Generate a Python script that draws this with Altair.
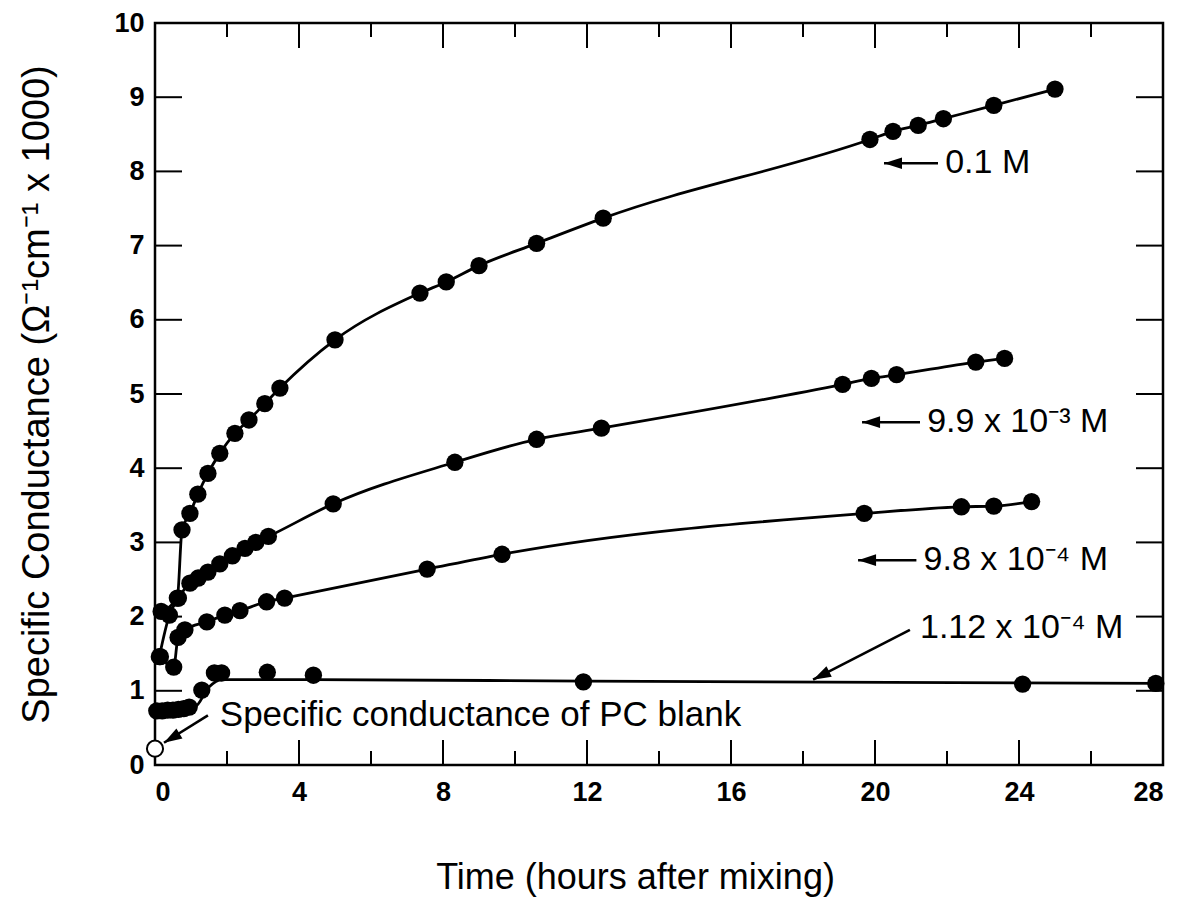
import altair as alt
import pandas as pd

# ---------------- data ----------------
t_01 = [0.17, 0.62, 0.75, 0.97, 1.19, 1.47, 1.80, 2.22, 2.61, 3.05, 3.47, 5.00, 7.36, 8.09, 9.00,
        10.60, 12.45, 19.86, 20.50, 21.20, 21.90, 23.30, 25.00]
v_01 = [2.07, 2.25, 3.17, 3.39, 3.65, 3.93, 4.20, 4.47, 4.65, 4.87, 5.08, 5.73, 6.36, 6.51, 6.73,
        7.03, 7.37, 8.43, 8.54, 8.62, 8.71, 8.89, 9.11]

t_99 = [0.12, 0.40, 0.65, 0.97, 1.20, 1.47, 1.80, 2.15, 2.50, 2.80, 3.15, 4.95, 8.33, 10.60, 12.40,
        19.10, 19.90, 20.60, 22.80, 23.60]
v_99 = [1.46, 2.02, 2.25, 2.45, 2.52, 2.60, 2.71, 2.82, 2.92, 3.00, 3.08, 3.52, 4.08, 4.39, 4.54,
        5.13, 5.21, 5.26, 5.43, 5.48]

t_98 = [0.15, 0.52, 0.64, 0.83, 1.44, 1.94, 2.36, 3.10, 3.60, 7.56, 9.64, 19.70, 22.40, 23.30, 24.35]
v_98 = [1.46, 1.32, 1.72, 1.82, 1.93, 2.02, 2.08, 2.20, 2.25, 2.64, 2.84, 3.39, 3.48, 3.49, 3.55]

t_112 = [0.05, 0.20, 0.35, 0.50, 0.65, 0.80, 0.95, 1.30, 1.65, 1.85, 3.12, 4.40, 11.90, 24.10, 27.80]
v_112 = [0.73, 0.73, 0.74, 0.74, 0.75, 0.76, 0.78, 1.01, 1.24, 1.24, 1.25, 1.21, 1.12, 1.09, 1.10]
# fitted curve drawn for the 1.12e-4 M series
curve_t_112 = [0.0, 1.10, 1.50, 1.85, 4.40, 12.0, 28.0]
curve_v_112 = [0.74, 0.78, 1.05, 1.15, 1.15, 1.13, 1.10]

blank_t = [0.0]
blank_v = [0.22]

x_tick_labels = [0, 4, 8, 12, 16, 20, 24, 28]
x_major_inner = [4, 8, 12, 16, 20, 24]
x_minor_inner = [2, 6, 10, 14, 18, 22, 26]
y_tick_labels = [0, 1, 2, 3, 4, 5, 6, 7, 8, 9, 10]
y_inner = [1, 2, 3, 4, 5, 6, 7, 8, 9]

series_label_text = ["0.1 M", "9.9 x 10\u207B\u00B3 M", "9.8 x 10\u207B\u2074 M", "1.12 x 10\u207B\u2074 M"]
series_label_t = [21.95, 21.45, 21.35, 21.25]
series_label_v = [8.11, 4.62, 2.76, 1.85]

blank_label_text = ["Specific conductance of PC blank"]
blank_label_t = [1.80]
blank_label_v = [0.67]

arrow_tail_t = [21.75, 21.25, 21.15, 20.97, 1.47]
arrow_tail_v = [8.11, 4.62, 2.76, 1.82, 0.67]
arrow_tip_t = [20.25, 19.64, 19.53, 18.28, 0.25]
arrow_tip_v = [8.11, 4.62, 2.76, 1.15, 0.30]
arrow_angle = [0, 0, 0, 333, 329]

# ---------------- frames ----------------
def frame(name, t, v):
    return pd.DataFrame({"series": name, "t": t, "v": v})

pts = pd.concat([frame("0.1 M", t_01, v_01), frame("9.9e-3 M", t_99, v_99),
                 frame("9.8e-4 M", t_98, v_98), frame("1.12e-4 M", t_112, v_112)])
lines = pd.concat([frame("0.1 M", t_01, v_01), frame("9.9e-3 M", t_99, v_99),
                   frame("9.8e-4 M", t_98, v_98), frame("1.12e-4 M", curve_t_112, curve_v_112)])
blank = pd.DataFrame({"t": blank_t, "v": blank_v})
series_labels = pd.DataFrame({"t": series_label_t, "v": series_label_v, "text": series_label_text})
blank_labels = pd.DataFrame({"t": blank_label_t, "v": blank_label_v, "text": blank_label_text})
arrows = pd.DataFrame({"t": arrow_tail_t, "v": arrow_tail_v, "t2": arrow_tip_t, "v2": arrow_tip_v})
heads = pd.DataFrame({"t": arrow_tip_t, "v": arrow_tip_v, "angle": arrow_angle})

W, H = 1008, 742
FONT = "Liberation Sans"

xs = alt.Scale(domain=[0, 28], nice=False, zero=False)
ys = alt.Scale(domain=[0, 10], nice=False, zero=False)

X = alt.X("t:Q", scale=xs, axis=alt.Axis(
    values=x_tick_labels, ticks=False, domain=False, grid=False,
    labelFontSize=27, labelFont=FONT, labelFontWeight="bold", labelColor="black", labelPadding=14,
    title="Time (hours after mixing)", titleFont=FONT, titleFontSize=36,
    titleFontWeight="normal", titleColor="black",
    titleX=480, titleY=112, titleBaseline="middle", titleAlign="center"))
Y = alt.Y("v:Q", scale=ys, axis=alt.Axis(
    values=y_tick_labels, ticks=False, domain=False, grid=False,
    labelFontSize=27, labelFont=FONT, labelFontWeight="bold", labelColor="black", labelPadding=11,
    title="Specific Conductance (\u03A9\u207B\u00B9cm\u207B\u00B9 x 1000)", titleFont=FONT,
    titleFontSize=38, titleFontWeight="normal", titleColor="black",
    titleX=-118, titleY=371, titleAngle=270, titleBaseline="middle", titleAlign="center"))

line_layer = alt.Chart(lines).mark_line(color="black", strokeWidth=2.8, interpolate="monotone").encode(
    x=X, y=Y, detail="series:N")
point_layer = alt.Chart(pts).mark_circle(color="black", size=300, opacity=1).encode(x=X, y=Y)
blank_layer = alt.Chart(blank).mark_point(shape="circle", filled=True, fill="white", stroke="black",
                                          strokeWidth=2, size=260, opacity=1).encode(x=X, y=Y)

def xtick(vals, length, top):
    df = pd.DataFrame({"t": vals})
    if top:
        return alt.Chart(df).mark_rule(color="black", strokeWidth=2).encode(
            x=X, y=alt.value(0), y2=alt.value(length))
    return alt.Chart(df).mark_rule(color="black", strokeWidth=2).encode(
        x=X, y=alt.value(H), y2=alt.value(H - length))

def ytick(vals, length, right):
    df = pd.DataFrame({"v": vals})
    if right:
        return alt.Chart(df).mark_rule(color="black", strokeWidth=2).encode(
            y=Y, x=alt.value(W), x2=alt.value(W - length))
    return alt.Chart(df).mark_rule(color="black", strokeWidth=2).encode(
        y=Y, x=alt.value(0), x2=alt.value(length))

tick_layers = [xtick(x_major_inner, 25, False), xtick(x_minor_inner, 14, False),
               xtick(x_major_inner, 25, True), xtick(x_minor_inner, 14, True),
               ytick(y_inner, 27, False), ytick(y_inner, 27, True)]

series_text_layer = alt.Chart(series_labels).mark_text(
    align="left", baseline="middle", font=FONT, fontSize=34, color="black").encode(
    x=X, y=Y, text="text:N")
blank_text_layer = alt.Chart(blank_labels).mark_text(
    align="left", baseline="middle", font=FONT, fontSize=35, color="black").encode(
    x=X, y=Y, text="text:N")
arrow_layer = alt.Chart(arrows).mark_rule(color="black", strokeWidth=2.6).encode(
    x=X, y=Y, x2="t2:Q", y2="v2:Q")
head_layer = alt.Chart(heads).mark_point(shape="M 0 0 L 2 -0.65 L 2 0.65 Z", filled=True,
                                         color="black", size=324, opacity=1).encode(
    x=X, y=Y, angle=alt.Angle("angle:Q", scale=None))

chart = alt.layer(*tick_layers, line_layer, point_layer, blank_layer, arrow_layer, head_layer,
                  series_text_layer, blank_text_layer).properties(
    width=W, height=H,
    autosize=alt.AutoSizeParams(type="none"),
    padding={"left": 155, "top": 23, "right": 22, "bottom": 143},
    background="white",
).configure_view(stroke="black", strokeWidth=2.5)

chart.save("out.html", embed_options={"renderer": "svg", "actions": False})
